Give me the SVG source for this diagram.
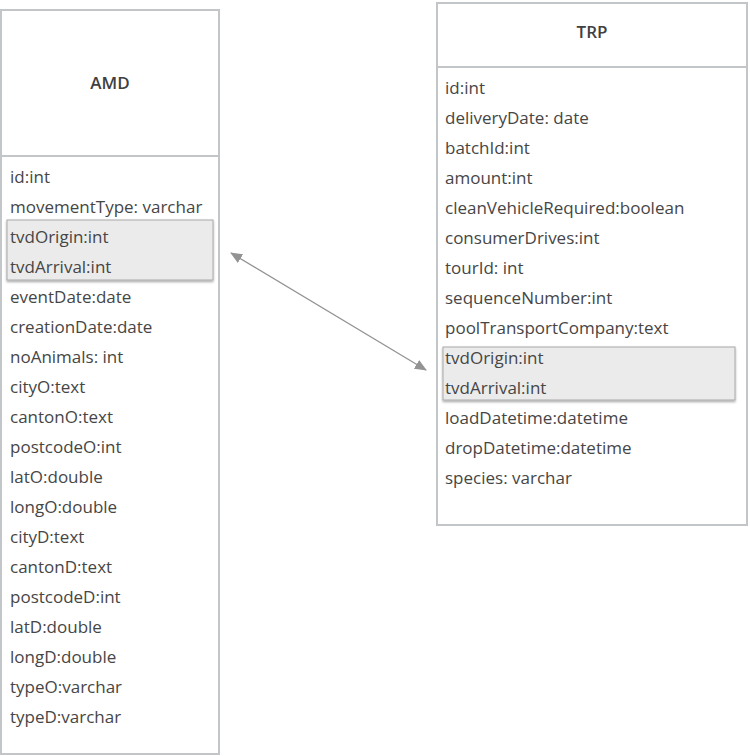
<svg xmlns="http://www.w3.org/2000/svg" width="750" height="756" viewBox="0 0 750 756">
<defs>
<style>
.box{fill:#fff;stroke:#c3c6c8;stroke-width:2}
.div{stroke:#c3c6c8;stroke-width:2}
.hl{fill:#ebebeb;stroke:#a9a9a9;stroke-width:1}
.t{font-family:"Open Sans",Lato,"Liberation Sans",sans-serif;font-size:17px;fill:#464646}
.h{font-family:"Open Sans",Lato,"Liberation Sans",sans-serif;font-size:17px;font-weight:600;fill:#404040;text-anchor:middle}
.conn{stroke:#939393;stroke-width:1.3;fill:none}
</style>
<filter id="sh" x="-5%" y="-20%" width="110%" height="150%">
<feDropShadow dx="0" dy="1.5" stdDeviation="1.2" flood-color="#000" flood-opacity="0.35"/>
</filter>
<marker id="ah" viewBox="0 0 12 10" refX="11" refY="5" markerWidth="12" markerHeight="10" markerUnits="userSpaceOnUse" orient="auto-start-reverse">
<path d="M0,0 L12,5 L0,10 Z" fill="#939393"/>
</marker>
</defs>
<g id="AMD">
<rect class="box" x="1" y="10" width="218" height="744"/>
<line class="div" x1="1" y1="156" x2="219" y2="156"/>
<text class="h" x="110" y="89">AMD</text>
<rect class="hl" x="7" y="220" width="206" height="60" filter="url(#sh)"/>
<text class="t" x="10" y="183">id:int</text>
<text class="t" x="10" y="213">movementType: varchar</text>
<text class="t" x="10" y="243">tvdOrigin:int</text>
<text class="t" x="10" y="273">tvdArrival:int</text>
<text class="t" x="10" y="303">eventDate:date</text>
<text class="t" x="10" y="333">creationDate:date</text>
<text class="t" x="10" y="363">noAnimals: int</text>
<text class="t" x="10" y="393">cityO:text</text>
<text class="t" x="10" y="423">cantonO:text</text>
<text class="t" x="10" y="453">postcodeO:int</text>
<text class="t" x="10" y="483">latO:double</text>
<text class="t" x="10" y="513">longO:double</text>
<text class="t" x="10" y="543">cityD:text</text>
<text class="t" x="10" y="573">cantonD:text</text>
<text class="t" x="10" y="603">postcodeD:int</text>
<text class="t" x="10" y="633">latD:double</text>
<text class="t" x="10" y="663">longD:double</text>
<text class="t" x="10" y="693">typeO:varchar</text>
<text class="t" x="10" y="723">typeD:varchar</text>
</g>
<g id="TRP">
<rect class="box" x="437" y="3" width="310" height="522"/>
<line class="div" x1="437" y1="67" x2="747" y2="67"/>
<text class="h" x="592" y="38">TRP</text>
<rect class="hl" x="443" y="347" width="292" height="53" filter="url(#sh)"/>
<text class="t" x="445" y="94">id:int</text>
<text class="t" x="445" y="124">deliveryDate: date</text>
<text class="t" x="445" y="154">batchId:int</text>
<text class="t" x="445" y="184">amount:int</text>
<text class="t" x="445" y="214">cleanVehicleRequired:boolean</text>
<text class="t" x="445" y="244">consumerDrives:int</text>
<text class="t" x="445" y="274">tourId: int</text>
<text class="t" x="445" y="304">sequenceNumber:int</text>
<text class="t" x="445" y="334">poolTransportCompany:text</text>
<text class="t" x="445" y="364">tvdOrigin:int</text>
<text class="t" x="445" y="394">tvdArrival:int</text>
<text class="t" x="445" y="424">loadDatetime:datetime</text>
<text class="t" x="445" y="454">dropDatetime:datetime</text>
<text class="t" x="445" y="484">species: varchar</text>
</g>
<g id="connectors">
<line class="conn" x1="231" y1="253" x2="426" y2="370" marker-start="url(#ah)" marker-end="url(#ah)"/>
</g>
</svg>
